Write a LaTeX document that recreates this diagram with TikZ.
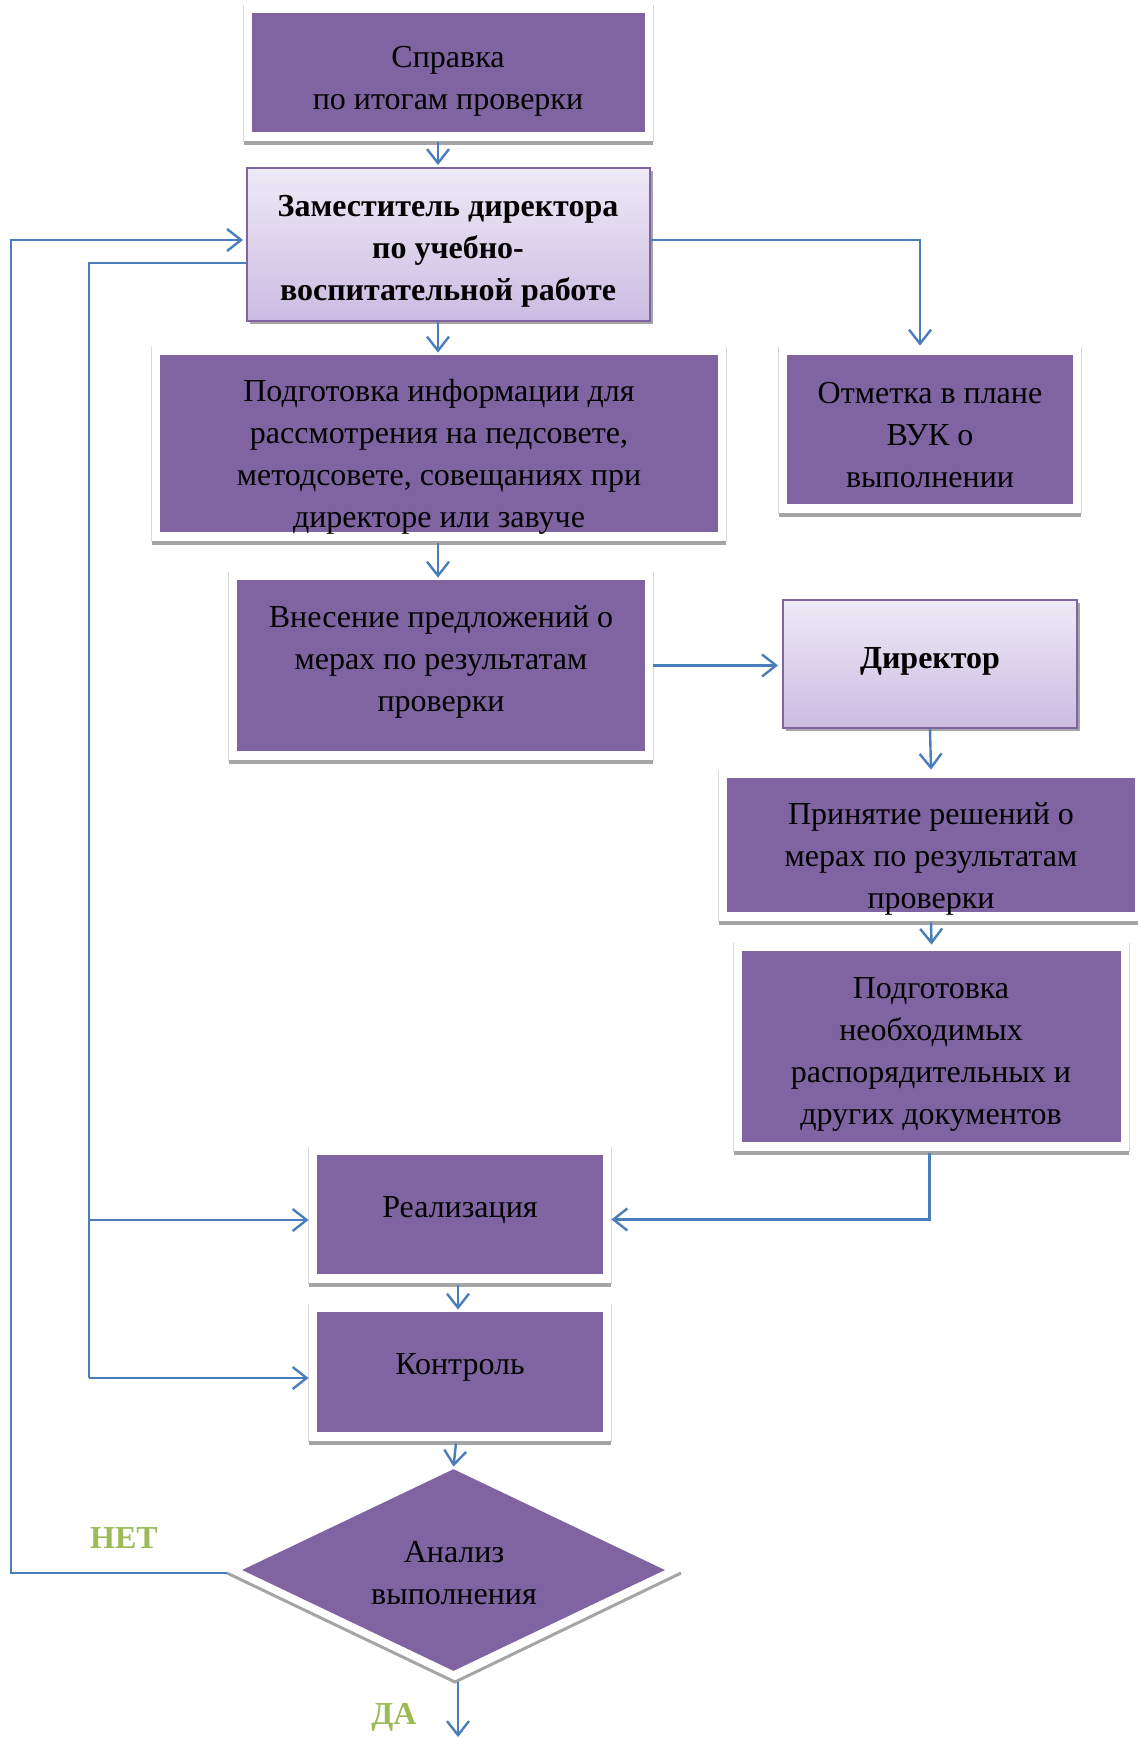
\documentclass[tikz,border=0pt]{standalone}
\usepackage{fontspec}
\setmainfont{Liberation Serif}
\usetikzlibrary{arrows.meta,shapes.geometric,shadows,calc}
\definecolor{purp}{HTML}{8064A2}
\definecolor{lavtop}{HTML}{EEEAF6}
\definecolor{lavbot}{HTML}{CBBCE2}
\definecolor{arrblue}{HTML}{4A7EBB}
\definecolor{yesno}{HTML}{9BBB59}
\definecolor{shgray}{HTML}{A5A5A5}
\definecolor{frgray}{HTML}{D9D9D9}
\newcommand{\boxfrm}[1]{%
  \draw[frgray,line width=0.6pt] ($(#1.north west)+(-8,-8)$) -- ($(#1.south west)+(-8,10)$);
  \draw[frgray,line width=0.6pt] ($(#1.north east)+(8,-8)$) -- ($(#1.south east)+(8,10)$);
  \draw[shgray,line width=2pt] ($(#1.south west)+(-8,11)$) -- ($(#1.south east)+(8,11)$);}
\tikzset{
  pbox/.style={fill=purp,draw=none,inner sep=0pt,rectangle},
  lbox/.style={rectangle,inner sep=0pt,draw=purp,line width=1pt,top color=lavtop,bottom color=lavbot,
     drop shadow={shadow xshift=1.5pt,shadow yshift=-1.5pt,fill=shgray,opacity=1}},
  txt/.style={align=center,inner sep=0pt,yshift=-1.75pt,font=\fontsize{16pt}{21pt}\selectfont},
  btxt/.style={txt,font=\fontsize{16pt}{21pt}\selectfont\bfseries},
  arr/.style={draw=arrblue,line width=1.2pt,-{Straight Barb[length=7pt,width=11pt,line width=1.2pt]}},
  conn/.style={draw=arrblue,line width=1.2pt},
  lbl/.style={text=yesno,inner sep=0pt,yshift=-1pt,font=\fontsize{16pt}{20pt}\selectfont\bfseries}
}
\begin{document}
\begin{tikzpicture}[x=0.5pt,y=-0.5pt]
\useasboundingbox (0,0) rectangle (1137,1738);
% purple boxes
\node[pbox,minimum width=196.5pt,minimum height=59.5pt] (b1) at (448.5,72.5) {};
\node[pbox,minimum width=279pt,minimum height=88.5pt] (b3) at (439,443.5) {};
\node[pbox,minimum width=143pt,minimum height=74.5pt] (b4) at (930,429.5) {};
\node[pbox,minimum width=204pt,minimum height=85.5pt] (b5) at (441,665.5) {};
\node[pbox,minimum width=204pt,minimum height=67pt] (b7) at (931,845) {};
\node[pbox,minimum width=189.5pt,minimum height=95.5pt] (b8) at (931.5,1046.5) {};
\node[pbox,minimum width=143pt,minimum height=59.5pt] (b9) at (460,1214.5) {};
\node[pbox,minimum width=143pt,minimum height=60pt] (b10) at (460,1372) {};
\boxfrm{b1}\boxfrm{b3}\boxfrm{b4}\boxfrm{b5}\boxfrm{b7}\boxfrm{b8}\boxfrm{b9}\boxfrm{b10}
% lavender boxes
\node[lbox,minimum width=201.5pt,minimum height=76.5pt] (b2) at (448.5,244.5) {};
\node[lbox,minimum width=147pt,minimum height=64pt] (b6) at (930,664) {};
% diamond
\coordinate (dl) at (227,1573);
\coordinate (db) at (455,1682);
\coordinate (dr) at (681,1573);
\draw[shgray,line width=1.5pt] (dl) -- (db) -- (dr);
\node[diamond,fill=purp,draw=none,inner sep=0pt,aspect=2.1,minimum width=211.5pt,minimum height=101pt] (d) at (453.5,1570) {};
% texts
\node[txt] (t1) at (448,78) {Справка\\по итогам проверки};
\node[btxt] (t2) at (448,248) {Заместитель директора\\по учебно-\\воспитательной работе};
\node[txt] (t3) at (439,453) {Подготовка информации для\\рассмотрения на педсовете,\\методсовете, совещаниях при\\директоре или завуче};
\node[txt] (t4) at (930,432) {Отметка в плане\\ВУК о\\выполнении};
\node[txt] (t5) at (441,658) {Внесение предложений о\\мерах по результатам\\проверки};
\node[btxt] (t6) at (930,658) {Директор};
\node[txt] (t7) at (931,855) {Принятие решений о\\мерах по результатам\\проверки};
\node[txt] (t8) at (931,1051) {Подготовка\\необходимых\\распорядительных и\\других документов};
\node[txt] (t9) at (460,1207) {Реализация};
\node[txt] (t10) at (460,1364) {Контроль};
\node[txt] (td) at (454,1570) {Анализ\\выполнения};
\node[lbl] (no) at (124,1536) {НЕТ};
\node[lbl] (yes) at (394,1715) {ДА};
% connectors
\draw[arr] ([xshift=-5.25pt,yshift=-5pt]b1.south) -- ([xshift=-5.25pt,yshift=1pt]b2.north);
\draw[arr] ([xshift=-5.25pt]b2.south) -- ([xshift=-5.25pt,yshift=1pt]b2.south |- b3.north);
\draw[arr] ([yshift=2.25pt]b2.east) -| ([xshift=-5pt,yshift=4.5pt]b4.north);
\draw[arr] ([xshift=-0.5pt,yshift=-5.5pt]b3.south) -- ([xshift=-0.5pt,yshift=1pt]b3.south |- b5.north);
\draw[arr] ([xshift=4pt]b5.east) -- ([xshift=-2pt]b5.east -| b6.west);
\draw[arr] (b6.south) -- ([yshift=4pt]b7.north);
\draw[arr] ([yshift=-5pt]b7.south) -- ([yshift=3pt]b8.north);
\draw[arr] ([xshift=-1pt,yshift=-5.5pt]b8.south) |- ([xshift=4pt,yshift=-2.5pt]b9.east);
\coordinate (jr) at (89,1220);
\coordinate (jc) at (89,1378);
\draw[conn] ([yshift=-9.25pt]b2.west) -| (jc);
\draw[arr] (jr) -- ([xshift=-4pt]jr -| b9.west);
\draw[arr] (jc) -- ([xshift=-4pt]jc -| b10.west);
\coordinate (oc1) at (11,1573);
\coordinate (oc2) at (11,240);
\draw[arr] (dl) -- (oc1) -- (oc2) -- ([xshift=-1.5pt]oc2 -| b2.west);
\draw[arr] ([xshift=-1pt,yshift=-5.5pt]b9.south) -- ([xshift=-1pt,yshift=1pt]b10.north);
\draw[arr] ([xshift=-2pt,yshift=-5.5pt]b10.south) -- ([yshift=1pt]d.north);
\coordinate (bend) at (458,1737);
\draw[arr] ([xshift=1.5pt]db) -- (bend);
\end{tikzpicture}
\end{document}
